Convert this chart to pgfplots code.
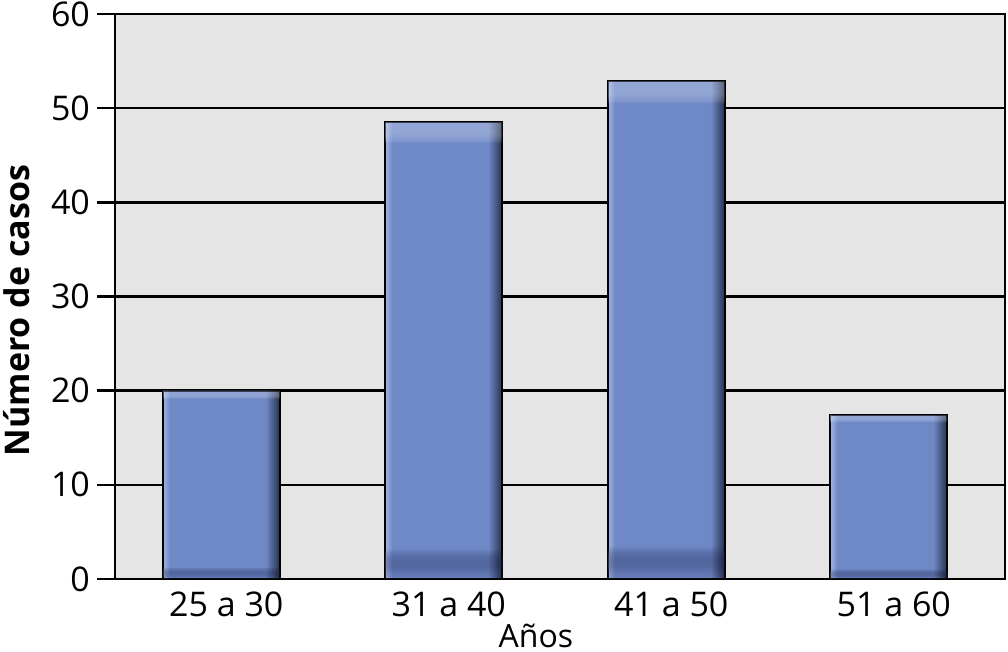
\documentclass[border=0pt]{standalone}
\usepackage{fontspec}
\setmainfont{Open Sans}
\usepackage{pgfplots}
\pgfplotsset{compat=1.18}
\usetikzlibrary{fadings}

\definecolor{plotbg}{HTML}{E5E5E5}
\definecolor{barblue}{HTML}{6F89C7}
\definecolor{barlight}{HTML}{A3B4E0}
\definecolor{bardark}{HTML}{27304C}
\pgfdeclarehorizontalshading{barshade}{100bp}{color(0bp)=(barlight); color(25bp)=(barlight);
  color(28bp)=(barblue); color(69bp)=(barblue); color(75bp)=(bardark); color(100bp)=(bardark)}
% masks for the dark band at the foot and the light band at the top of each bar
\pgfdeclareverticalshading{footmask}{100bp}{color(0bp)=(pgftransparent!0); color(25bp)=(pgftransparent!0);
  color(26bp)=(pgftransparent!20); color(28.5bp)=(pgftransparent!100); color(100bp)=(pgftransparent!100)}
\pgfdeclareverticalshading{topmask}{100bp}{color(0bp)=(pgftransparent!100); color(72.5bp)=(pgftransparent!100);
  color(74bp)=(pgftransparent!45); color(100bp)=(pgftransparent!45)}
\pgfdeclarefading{footband}{\pgfuseshading{footmask}}
\pgfdeclarefading{topband}{\pgfuseshading{topmask}}

\pgfplotsset{glossybar/.style={draw=black, line width=0.9pt, shading=barshade,
  postaction={fill=black!85!blue, path fading=footband, fit fading=true},
  postaction={fill=white, path fading=topband, fit fading=true}}}

\begin{document}
\begin{tikzpicture}
\useasboundingbox (-57.5pt,-36.5pt) rectangle (446.5pt,289.5pt);
\begin{axis}[
  at={(0,0)}, anchor=south west,
  scale only axis, width=445pt, height=282.5pt,
  axis background/.style={fill=plotbg},
  axis line style={line width=1.4pt},
  ymin=0, ymax=60, ytick={0,10,...,60},
  xmin=-0.5, xmax=3.5,
  xtick={0,1,2,3},
  xticklabels={25 a 30, 31 a 40, 41 a 50, 51 a 60},
  x tick style={draw=none},
  extra x ticks={-0.5,0.5,1.5,2.5,3.5},
  extra x tick labels={},
  extra x tick style={major tick length=12pt, tick style={line width=1.4pt, black}, tick align=outside},
  y tick style={line width=1.3pt, black},
  major tick length=9pt,
  tick align=outside,
  xtick pos=bottom, ytick pos=left,
  ymajorgrids, grid style={line width=1.2pt, black},
  tick label style={font=\fontsize{17}{20}\selectfont},
  xticklabel style={yshift=6pt},
  /pgf/number format/assume math mode=true,
  xlabel={Años}, xlabel style={font=\fontsize{16}{19}\selectfont,
    at={(axis description cs:0.473,-0.100)}, anchor=center},
  ylabel={\bfseries Número de casos}, ylabel style={font=\fontsize{17}{20}\selectfont,
    at={(axis description cs:-0.110,0.475)}, anchor=center},
  ybar, bar width=58.5pt, bar shift=-2.5pt,
]
% one plot per bar so that each bar gets its own shading
\addplot[glossybar] coordinates {(0,20)};
\addplot[glossybar] coordinates {(1,48.5)};
\addplot[glossybar] coordinates {(2,52.9)};
\addplot[glossybar] coordinates {(3,17.4)};
\end{axis}
\end{tikzpicture}
\end{document}
